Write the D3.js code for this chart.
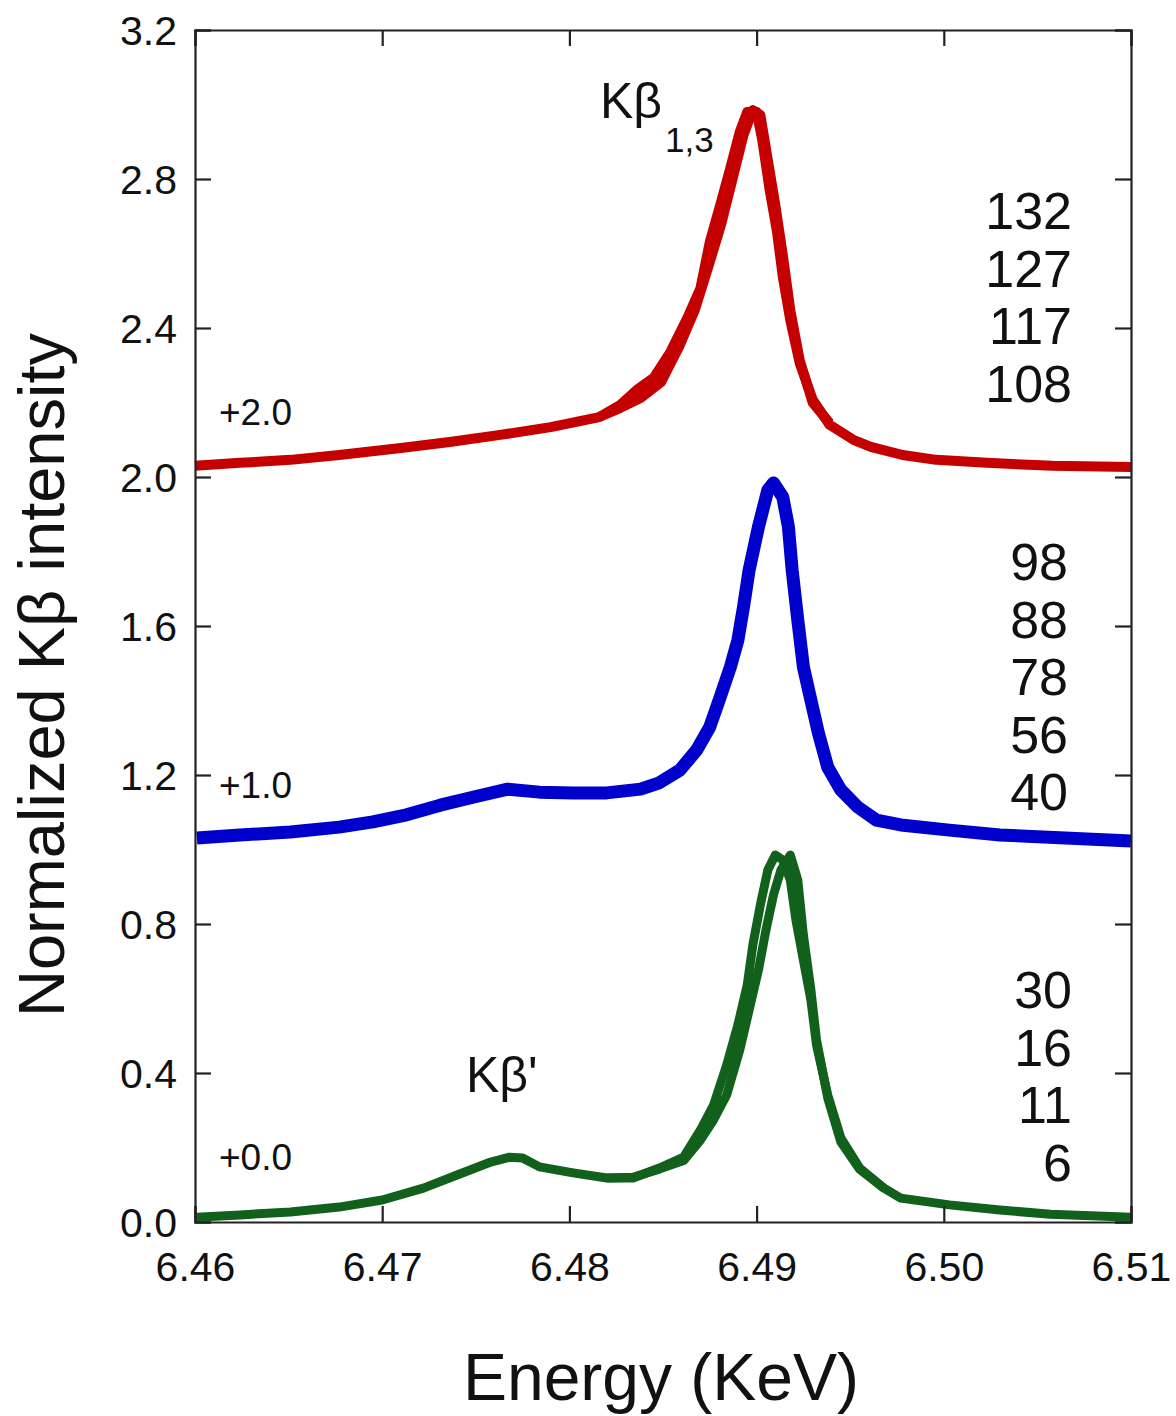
<!DOCTYPE html>
<html>
<head>
<meta charset="utf-8">
<script src="https://cdn.jsdelivr.net/npm/d3@7"></script>
<style>
  body { margin: 0; background: #fff; }
  text { font-family: "Liberation Sans", Arial, Helvetica, sans-serif; fill: #111; }
</style>
</head>
<body>
<script>
//svg dimensions
var width = 1176,
    height = 1416;

//plot box
var margin = {left: 195, right: 45, top: 30, bottom: 194};

//tick values
var xTicks = [6.46, 6.47, 6.48, 6.49, 6.50, 6.51];
var yTicks = [0.0, 0.4, 0.8, 1.2, 1.6, 2.0, 2.4, 2.8, 3.2];

//red group (offset +2.0)
var redEnergy1 = [6.4600, 6.4624, 6.4651, 6.4677, 6.4710, 6.4736, 6.4763, 6.4790, 6.4816, 6.4827,
  6.4836, 6.4845, 6.4854, 6.4863, 6.4870, 6.4875, 6.4881, 6.4886, 6.4891, 6.4895,
  6.4900, 6.4903, 6.4907, 6.4911, 6.4914, 6.4918, 6.4923, 6.4930, 6.4939, 6.4952,
  6.4961, 6.4978, 6.4996, 6.5023, 6.5058, 6.5100];
var redScan1 = [0.030, 0.038, 0.046, 0.059, 0.078, 0.094, 0.113, 0.134, 0.161, 0.193,
  0.234, 0.266, 0.336, 0.427, 0.507, 0.631, 0.738, 0.830, 0.926, 0.980,
  0.980, 0.905, 0.770, 0.655, 0.537, 0.421, 0.306, 0.207, 0.140, 0.099,
  0.081, 0.059, 0.046, 0.038, 0.030, 0.027];
var redEnergy2 = [6.4816, 6.4827, 6.4838, 6.4849, 6.4859, 6.4867, 6.4874, 6.4881, 6.4887, 6.4893,
  6.4898, 6.4902, 6.4906, 6.4910, 6.4914, 6.4918, 6.4923, 6.4930, 6.4939];
var redScan2 = [0.161, 0.185, 0.212, 0.255, 0.354, 0.448, 0.561, 0.677, 0.797, 0.918,
  0.985, 0.972, 0.851, 0.730, 0.596, 0.448, 0.314, 0.199, 0.145];

//blue group (offset +1.0)
var blueEnergy = [6.4601, 6.4624, 6.4651, 6.4677, 6.4695, 6.4713, 6.4731, 6.4749, 6.4767, 6.4784,
  6.4802, 6.4820, 6.4838, 6.4848, 6.4859, 6.4868, 6.4875, 6.4880, 6.4886, 6.4890,
  6.4893, 6.4896, 6.4901, 6.4906, 6.4909, 6.4914, 6.4917, 6.4919, 6.4922, 6.4925,
  6.4929, 6.4933, 6.4938, 6.4945, 6.4954, 6.4964, 6.4977, 6.5003, 6.5030, 6.5100];
var blueScan = [0.031, 0.039, 0.047, 0.060, 0.074, 0.093, 0.119, 0.141, 0.162, 0.154,
  0.152, 0.152, 0.162, 0.179, 0.213, 0.267, 0.329, 0.401, 0.490, 0.562,
  0.651, 0.750, 0.866, 0.965, 0.984, 0.946, 0.866, 0.750, 0.616, 0.490,
  0.401, 0.313, 0.221, 0.160, 0.114, 0.079, 0.066, 0.052, 0.039, 0.023];

//green group (offset +0.0)
var greenEnergy1 = [6.4601, 6.4624, 6.4651, 6.4677, 6.4700, 6.4722, 6.4740, 6.4758, 6.4768, 6.4775,
  6.4784, 6.4802, 6.4820, 6.4834, 6.4848, 6.4861, 6.4870, 6.4877, 6.4884, 6.4890,
  6.4895, 6.4898, 6.4902, 6.4906, 6.4910, 6.4914, 6.4918, 6.4921, 6.4925, 6.4929,
  6.4932, 6.4938, 6.4945, 6.4955, 6.4968, 6.4977, 6.5003, 6.5030, 6.5057, 6.5100];
var greenScan1 = [0.013, 0.019, 0.027, 0.040, 0.059, 0.091, 0.126, 0.161, 0.174, 0.172,
  0.148, 0.132, 0.118, 0.118, 0.145, 0.174, 0.247, 0.314, 0.421, 0.529,
  0.636, 0.744, 0.851, 0.945, 0.985, 0.972, 0.918, 0.811, 0.703, 0.596,
  0.475, 0.341, 0.226, 0.145, 0.091, 0.064, 0.046, 0.032, 0.021, 0.013];
var greenEnergy2 = [6.4820, 6.4834, 6.4848, 6.4861, 6.4870, 6.4877, 6.4884, 6.4891, 6.4896, 6.4901,
  6.4905, 6.4909, 6.4913, 6.4918, 6.4922, 6.4925, 6.4929, 6.4932, 6.4938, 6.4945, 6.4955, 6.4968];
var greenScan2 = [0.118, 0.120, 0.142, 0.165, 0.220, 0.274, 0.341, 0.462, 0.569, 0.677,
  0.784, 0.878, 0.945, 0.985, 0.918, 0.770, 0.623, 0.489, 0.333, 0.215, 0.142, 0.091];

//labels
var redNumbers = ['132', '127', '117', '108'];
var blueNumbers = ['98', '88', '78', '56', '40'];
var greenNumbers = ['30', '16', '11', '6'];
var offsetLabels = ['+2.0', '+1.0', '+0.0'];
var offsets = [2.0, 1.0, 0.0];

var curves = [
  {energy: redEnergy1, scan: redScan1, offset: 2.0, color: '#c40000', w: 10},
  {energy: redEnergy2, scan: redScan2, offset: 2.0, color: '#c40000', w: 10},
  {energy: blueEnergy, scan: blueScan, offset: 1.0, color: '#0000cc', w: 13},
  {energy: greenEnergy1, scan: greenScan1, offset: 0.0, color: '#11611c', w: 9},
  {energy: greenEnergy2, scan: greenScan2, offset: 0.0, color: '#11611c', w: 9}
];

var x = d3.scaleLinear()
  .domain([6.46, 6.51])
  .range([margin.left, width - margin.right]);

var y = d3.scaleLinear()
  .domain([0, 3.2])
  .range([height - margin.bottom, margin.top]);

var svg = d3.select('body')
  .append('svg')
  .attr('width', width)
  .attr('height', height);

//curves first, frame on top
var line = d3.line()
  .x(function(d) { return x(d[0]); })
  .y(function(d) { return y(d[1]); });

curves.forEach(function(c) {
  var pts = c.energy.map(function(e, i) { return [e, c.scan[i] + c.offset]; });
  svg.append('path')
    .datum(pts)
    .attr('d', line)
    .attr('fill', 'none')
    .attr('stroke', c.color)
    .attr('stroke-width', c.w)
    .attr('stroke-linejoin', 'round')
    .attr('stroke-linecap', 'butt');
});

//axes with inward ticks
var tick = 16;
var fmtX = d3.format('.2f'),
    fmtY = d3.format('.1f');

var gx = svg.append('g')
  .attr('transform', 'translate(0,' + (height - margin.bottom) + ')')
  .call(d3.axisBottom(x).tickValues(xTicks).tickFormat(fmtX).tickSize(-tick).tickPadding(30));
var gy = svg.append('g')
  .attr('transform', 'translate(' + margin.left + ',0)')
  .call(d3.axisLeft(y).tickValues(yTicks).tickFormat(fmtY).tickSize(-tick).tickPadding(18));
var gt = svg.append('g')
  .attr('transform', 'translate(0,' + margin.top + ')')
  .call(d3.axisTop(x).tickValues(xTicks).tickFormat('').tickSize(-tick));
var gr = svg.append('g')
  .attr('transform', 'translate(' + (width - margin.right) + ',0)')
  .call(d3.axisRight(y).tickValues(yTicks).tickFormat('').tickSize(-tick));

[gx, gy, gt, gr].forEach(function(g) {
  g.select('.domain').attr('stroke', '#222').attr('stroke-width', 2.2);
  g.selectAll('.tick line').attr('stroke', '#222').attr('stroke-width', 2.2);
  g.selectAll('.tick text')
    .attr('font-family', '"Liberation Sans", Arial, Helvetica, sans-serif')
    .attr('font-size', 41)
    .attr('fill', '#111');
});
gy.selectAll('.tick text').attr('dy', '0.36em');

//axis titles
svg.append('text')
  .attr('x', 661)
  .attr('y', 1400)
  .attr('text-anchor', 'middle')
  .attr('font-size', 66)
  .text('Energy (KeV)');

svg.append('text')
  .attr('transform', 'translate(64,675) rotate(-90)')
  .attr('text-anchor', 'middle')
  .attr('font-size', 65)
  .text('Normalized K\u03B2 intensity');

//offset labels
svg.selectAll('.offset')
  .data(offsets)
  .enter().append('text')
  .attr('class', 'offset')
  .attr('x', 219)
  .attr('y', function(d) { return y(d) - 52; })
  .attr('font-size', 37)
  .text(function(d, i) { return offsetLabels[i]; });

//scan number labels
function numberColumn(list, xRight, yTop) {
  svg.selectAll(null)
    .data(list)
    .enter().append('text')
    .attr('x', xRight)
    .attr('y', function(d, i) { return yTop + i * 57.5; })
    .attr('text-anchor', 'end')
    .attr('font-size', 52)
    .text(function(d) { return d; });
}
numberColumn(redNumbers, 1072, 229);
numberColumn(blueNumbers, 1068, 580);
numberColumn(greenNumbers, 1072, 1008);

//peak labels
var kb13 = svg.append('text')
  .attr('x', 600)
  .attr('y', 118)
  .attr('font-size', 50);
kb13.append('tspan').text('K\u03B2');
kb13.append('tspan')
  .attr('font-size', 35)
  .attr('dx', 3)
  .attr('dy', 34)
  .text('1,3');

svg.append('text')
  .attr('x', 466)
  .attr('y', 1092)
  .attr('font-size', 50)
  .text("K\u03B2'");
</script>
</body>
</html>
